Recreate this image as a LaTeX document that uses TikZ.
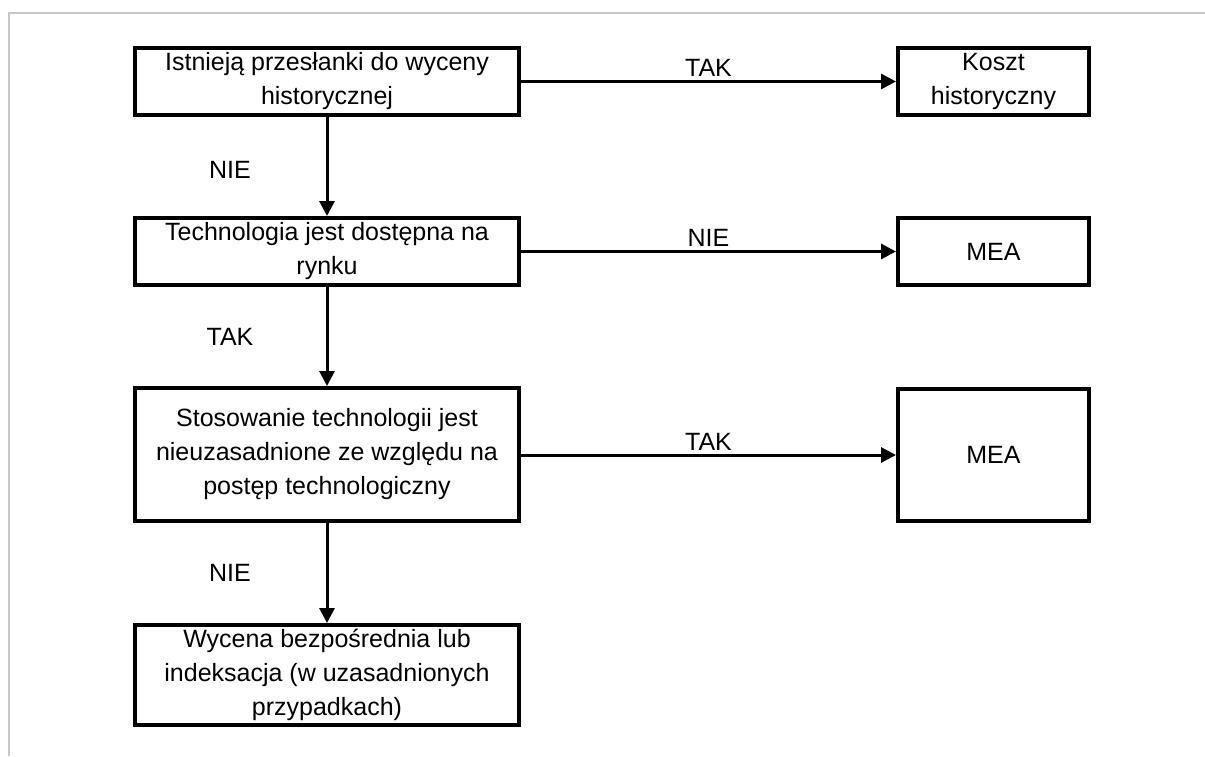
\documentclass[tikz,border=0pt]{standalone}
\usepackage{fontspec}
\setmainfont{Liberation Sans}
\usetikzlibrary{arrows.meta}
\definecolor{framegray}{RGB}{200,200,200}
\begin{document}
\begin{tikzpicture}[x=1pt,y=-1pt,
  box/.style={draw=black, line width=4pt, fill=white, align=center, inner sep=0pt,
    font=\fontsize{25}{34}\selectfont},
  wide/.style={box, minimum width=384pt},
  narrow/.style={box, minimum width=191pt},
  conn/.style={line width=3pt, -{Triangle[length=15pt,width=15pt]}},
  lbl/.style={font=\fontsize{25}{30}\selectfont, inner sep=0pt}]
\useasboundingbox (0,0) rectangle (1205,756);
\draw[framegray, line width=2pt] (9,756) -- (9,13) -- (1205,13);

\node[wide, minimum height=67pt] (b1) at (327,81.5) {Istnieją przesłanki do wyceny\\historycznej};
\node[wide, minimum height=67pt] (b2) at (327,251.5) {Technologia jest dostępna na\\rynku};
\node[wide, minimum height=133pt] (b3) at (327,454.5) {Stosowanie technologii jest\\nieuzasadnione ze względu na\\postęp technologiczny};
\node[wide, minimum height=100pt] (b4) at (327,675) {Wycena bezpośrednia lub\\indeksacja (w uzasadnionych\\przypadkach)};

\node[narrow, minimum height=67pt] (r1) at (993.5,81.5) {Koszt\\historyczny};
\node[narrow, minimum height=67pt] (r2) at (993.5,251.5) {MEA};
\node[narrow, minimum height=132pt] (r3) at (993.5,455) {MEA};

\draw[conn] (b1) -- node[lbl, midway, xshift=-97pt, yshift=-3pt] {NIE} (b2);
\draw[conn] (b2) -- node[lbl, midway, xshift=-97pt] {TAK} (b3);
\draw[conn] (b3) -- node[lbl, midway, xshift=-97pt] {NIE} (b4);

\draw[conn] (b1.east) -- node[lbl, midway, above=3.5pt] {TAK} (r1.west);
\draw[conn] (b2.east) -- node[lbl, midway, above=3.5pt] {NIE} (r2.west);
\draw[conn] (b3.east |- r3.west) -- node[lbl, midway, above=3.5pt] {TAK} (r3.west);
\end{tikzpicture}
\end{document}
